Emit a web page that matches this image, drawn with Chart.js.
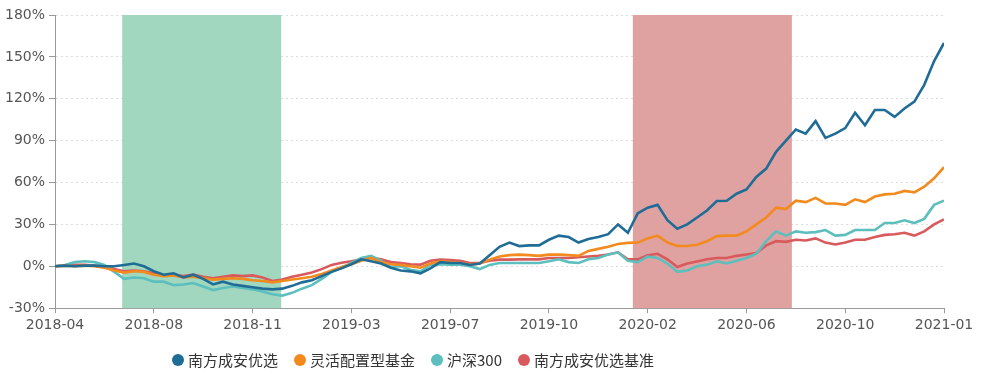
<!DOCTYPE html>
<html>
<head>
<meta charset="utf-8">
<script src="https://cdn.jsdelivr.net/npm/chart.js@4.4.1/dist/chart.umd.min.js"></script>
<style>
  html, body { margin: 0; padding: 0; background: #fff; }
  #wrap { width: 982px; height: 374px; }
</style>
</head>
<body>
<div id="wrap"><canvas id="myChart"></canvas></div>
<script>
// x-as labels, één per 10 punten
const tickLabels = ['2018-04', '2018-08', '2018-11', '2019-03', '2019-07',
                    '2019-10', '2020-02', '2020-06', '2020-10', '2021-01'];

// cumulatief rendement (%) per punt
const nanfang = [0,0.5,0,0.5,0.5,0,0,1,2,0,
  -3.5,-6,-5,-8,-6,-9,-13,-11,-13,-14,
  -15,-16,-16.5,-16,-14,-11.5,-10,-7,-4,-1.5,
  1.5,5,3.6,2,-1,-3,-3.6,-5,-1.5,3,
  2.4,2.4,1,2,8,14,17,14.5,15,15,
  19,22,21,17,19.5,21,23,30,24,38,
  42,44,33,27,30,35,40,46.8,47,52,
  55,64,70,82,90,98,95,104,92,95,
  99,110,101,112,112,107,113,118,130,147,
  160];

const linghuo = [0,0.5,0,0.5,0,-1,-3,-4.5,-3.5,-4,
  -6,-7,-6.5,-8,-7.5,-8.5,-9.5,-9,-8.5,-9,
  -10,-10.5,-11.5,-10.5,-9.5,-8.5,-7.5,-5.5,-3,-0.5,
  1.5,4,6,3,1.5,1,0,-1,2,3.5,
  3,2.5,1.2,2,4.8,7,8,8.4,8,7.5,
  8.4,8.4,8,7.5,11,12.5,14,16,16.8,17,
  20,22,17,14.5,14.5,15.5,18,21.6,22,22,
  25,30,35,42,41,47,46,49,45,45,
  44,48,46,50,51.5,52,54,53,57,63,
  71];

const hs300 = [0,1,3,3.6,3,1,-4,-9,-8,-8.5,
  -11,-11,-13.5,-13,-12,-14.5,-17,-15.5,-14.5,-15.5,
  -16.5,-18,-20,-21,-19,-16,-13.5,-9,-4,-1,
  2.5,6,7.5,4,-0.5,0,-2.4,-3.6,1,1.5,
  1.2,1.2,0,-2,1,2.4,2.4,2.4,2.4,2.4,
  3.6,5,3,2.4,5,6,8.5,10,4,3,
  7,6,2,-4,-3,0,1.2,3.6,2,4,
  6,9,18,25,22,25,24,24.5,26,22,
  22.5,26,26,26,31,31,33,31,34,44,
  47];

const jizhun = [0,0.5,1,1,0.5,0,-2,-3.5,-3,-3.5,
  -5,-6.5,-6,-7,-6,-7.5,-8.5,-7.5,-6.5,-7,
  -6.5,-8,-10.5,-9.5,-7.5,-6,-4.5,-2,1,2.5,
  3.6,5,6,5,3,2.4,1.5,1.2,4,4.8,
  4.5,4,2.4,2.4,4,4.8,4.8,5,5,5,
  6,6,6,6.5,7,7.5,8.5,10,5,5,
  8,9,5,-0.5,2,3.5,5,6,6,7.5,
  8.5,9.6,15,18,17.5,19,18.5,20,17,15.6,
  17,19,19,21,22.5,23,24,22,25,30,
  33.6];

// gearceerde periodes (in punt-index)
const shadeStart = [6.8, 58.5];
const shadeEnd = [22.9, 74.6];
const shadeColors = ['#a1d7bf', '#e0a1a1'];

const toXY = arr => arr.map((v, i) => ({ x: i, y: v }));

// Plugin voor de gekleurde achtergrondvlakken
const shadePlugin = {
    id: 'shade',
    beforeDatasetsDraw(chart) {
        const { ctx, chartArea, scales } = chart;
        ctx.save();
        for (let i = 0; i < shadeStart.length; i++) {
            const x1 = scales.x.getPixelForValue(shadeStart[i]);
            const x2 = scales.x.getPixelForValue(shadeEnd[i]);
            ctx.fillStyle = shadeColors[i];
            ctx.fillRect(x1, chartArea.top, x2 - x1, chartArea.bottom - chartArea.top);
        }
        ctx.restore();
    }
};

// Eigen legenda onderaan (iets links van het midden, zoals het origineel)
const legendPlugin = {
    id: 'bottomLegend',
    afterDraw(chart) {
        const { ctx } = chart;
        ctx.save();
        ctx.font = '15px "Noto Sans CJK SC", sans-serif';
        ctx.textBaseline = 'middle';
        let x = 172;
        const y = 360;
        chart.data.datasets.forEach(ds => {
            ctx.fillStyle = ds.borderColor;
            ctx.beginPath();
            ctx.arc(x + 6, y, 6, 0, Math.PI * 2);
            ctx.fill();
            ctx.fillStyle = '#333';
            ctx.fillText(ds.label, x + 16, y);
            x += 16 + ctx.measureText(ds.label).width + 16;
        });
        ctx.restore();
    }
};

const series = [
    { label: '南方成安优选', data: nanfang, color: '#1f6d97' },
    { label: '灵活配置型基金', data: linghuo, color: '#f28a1e' },
    { label: '沪深300', data: hs300, color: '#5cbfbd' },
    { label: '南方成安优选基准', data: jizhun, color: '#d95a5c' }
];

const ctx = document.getElementById('myChart').getContext('2d');
const chart = new Chart(ctx, {
    type: 'line',
    data: {
        datasets: series.map(s => ({
            label: s.label,
            data: toXY(s.data),
            borderColor: s.color,
            backgroundColor: s.color,
            borderWidth: 2.6,
            pointRadius: 0,
            tension: 0
        }))
    },
    options: {
        responsive: true,
        maintainAspectRatio: false,
        animation: false,
        layout: { padding: { top: 15, right: 38, left: 1, bottom: 36 } },
        plugins: {
            tooltip: { enabled: false },
            legend: { display: false }
        },
        scales: {
            x: {
                type: 'linear',
                min: 0,
                max: 90,
                ticks: {
                    stepSize: 10,
                    color: '#555',
                    padding: 4,
                    font: { family: '"DejaVu Sans", sans-serif', size: 14 },
                    callback: v => tickLabels[v / 10]
                },
                grid: { drawOnChartArea: false, drawTicks: true, tickLength: 5, tickColor: '#999' },
                border: { color: '#999', width: 1 }
            },
            y: {
                min: -30,
                max: 180,
                ticks: {
                    stepSize: 30,
                    color: '#555',
                    padding: 4,
                    font: { family: '"DejaVu Sans", sans-serif', size: 14 },
                    callback: v => v + '%'
                },
                grid: { color: '#dcdcdc', tickColor: '#999', tickLength: 6 },
                border: { color: '#999', width: 1, dash: [2, 3] }
            }
        }
    },
    plugins: [shadePlugin, legendPlugin]
});
</script>
</body>
</html>
